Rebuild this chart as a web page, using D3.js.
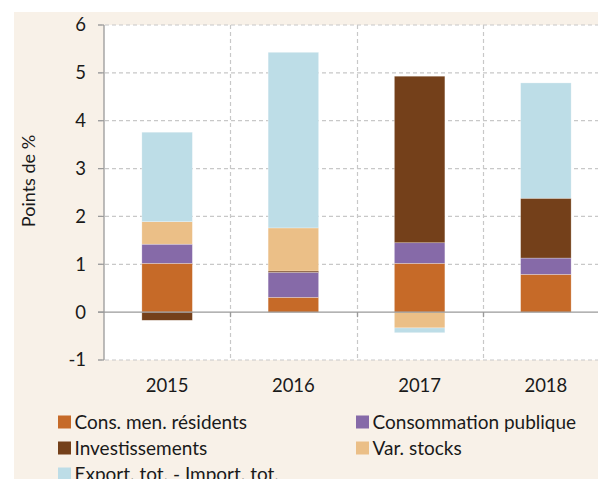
<!DOCTYPE html>
<html><head><meta charset="utf-8">
<script src="https://cdn.jsdelivr.net/npm/d3@7"></script>
<style>body{margin:0;background:#fff;}svg{display:block;font-family:Lato,"Noto Sans",sans-serif;}</style>
</head><body><svg id="c" width="598" height="479"></svg>
<script>
const years = ["2015","2016","2017","2018"];
const seriesNames = ["Cons. men. résidents","Consommation publique","Investissements","Var. stocks","Export. tot. - Import. tot."];
const consMen = [1.02, 0.31, 1.02, 0.79];
const consPub = [0.40, 0.52, 0.43, 0.34];
const invest  = [-0.17, 0.03, 3.48, 1.25];
const stocks  = [0.47, 0.90, -0.33, 0.00];
const exportNet = [1.87, 3.67, -0.10, 2.41];
const yTicks = [-1,0,1,2,3,4,5,6];
const colors = ["#c66a28","#866aa8","#74401a","#ebbf87","#bddde7"];

(function(){
const rows = years.map((y,i)=>({year:y, s0:consMen[i], s1:consPub[i], s2:invest[i], s3:stocks[i], s4:exportNet[i]}));
const keys = ["s0","s1","s2","s3","s4"];
const stack = d3.stack().keys(keys).offset(d3.stackOffsetDiverging)(rows);

const svg = d3.select("#c");
svg.append("rect").attr("x",14).attr("y",12).attr("width",584).attr("height",467).attr("fill","#f8f1e8");

const pL=104, pT=25, pR=609, pB=360;
const x = d3.scaleBand().domain(years).range([pL,pR]).padding(0);
const y = d3.scaleLinear().domain([-1,6]).range([pB,pT]);

svg.append("rect").attr("x",pL).attr("y",pT).attr("width",598-pL).attr("height",pB-pT).attr("fill","#fff");

svg.append("g").selectAll("line").data(yTicks.filter(d=>d!==0)).join("line")
  .attr("x1",98).attr("x2",598).attr("y1",d=>y(d)).attr("y2",d=>y(d))
  .attr("stroke","#c8c8c8").attr("stroke-width",1.2).attr("stroke-dasharray","4,3");
svg.append("g").selectAll("line").data(years.slice(1)).join("line")
  .attr("x1",d=>Math.round(x(d))+0.5).attr("x2",d=>Math.round(x(d))+0.5).attr("y1",pT).attr("y2",pB)
  .attr("stroke","#c8c8c8").attr("stroke-width",1.2).attr("stroke-dasharray","4,3");

const bw = x.bandwidth()*0.4;
svg.append("g").selectAll("g").data(stack).join("g").attr("fill",(d,i)=>colors[i])
  .selectAll("rect").data(d=>d).join("rect")
  .attr("x",d=>x(d.data.year)+(x.bandwidth()-bw)/2)
  .attr("width",bw)
  .attr("y",d=>y(Math.max(d[0],d[1])))
  .attr("height",d=>Math.abs(y(d[0])-y(d[1])))
  .attr("stroke","#ffffff").attr("stroke-opacity",0.45).attr("stroke-width",0.6);

svg.append("line").attr("x1",98).attr("x2",598).attr("y1",y(0)).attr("y2",y(0)).attr("stroke","#9a9a9a").attr("stroke-width",1.3);
svg.append("g").selectAll("line").data(years.slice(1)).join("line")
  .attr("x1",d=>Math.round(x(d))+0.5).attr("x2",d=>Math.round(x(d))+0.5).attr("y1",y(0)).attr("y2",y(0)+5)
  .attr("stroke","#9a9a9a").attr("stroke-width",1.3);
svg.append("line").attr("x1",pL).attr("x2",pL).attr("y1",pT).attr("y2",pB).attr("stroke","#9a9a9a").attr("stroke-width",1.3);
svg.append("g").selectAll("line").data(yTicks).join("line")
  .attr("x1",98).attr("x2",pL).attr("y1",d=>y(d)).attr("y2",d=>y(d)).attr("stroke","#9a9a9a").attr("stroke-width",1.2);

svg.append("g").selectAll("text").data(yTicks).join("text")
  .attr("x",86).attr("y",d=>y(d)).attr("dy","0.35em").attr("text-anchor","end")
  .attr("font-size",18.5).attr("fill","#1a1a1a").text(d=>d<0?"-"+Math.abs(d):d);
svg.append("g").selectAll("text").data(years).join("text")
  .attr("x",d=>x(d)+x.bandwidth()/2).attr("y",386).attr("dy","0.35em").attr("text-anchor","middle")
  .attr("font-size",18.5).attr("fill","#1a1a1a").text(d=>d);
svg.append("text").attr("transform","translate(29,181) rotate(-90)").attr("dy","0.35em").attr("text-anchor","middle")
  .attr("font-size",18).attr("fill","#1a1a1a").text("Points de %");

const legPos = [[58,422],[356,422],[58,448],[356,448],[58,474]];
const lg = svg.append("g").selectAll("g").data(seriesNames).join("g")
  .attr("transform",(d,i)=>`translate(${legPos[i][0]},${legPos[i][1]})`);
lg.append("rect").attr("x",0).attr("y",-6.5).attr("width",13).attr("height",13).attr("fill",(d,i)=>colors[i]);
lg.append("text").attr("x",16.5).attr("y",0).attr("dy","0.35em").attr("font-size",19).attr("fill","#1a1a1a").text(d=>d);
})();
</script></body></html>
